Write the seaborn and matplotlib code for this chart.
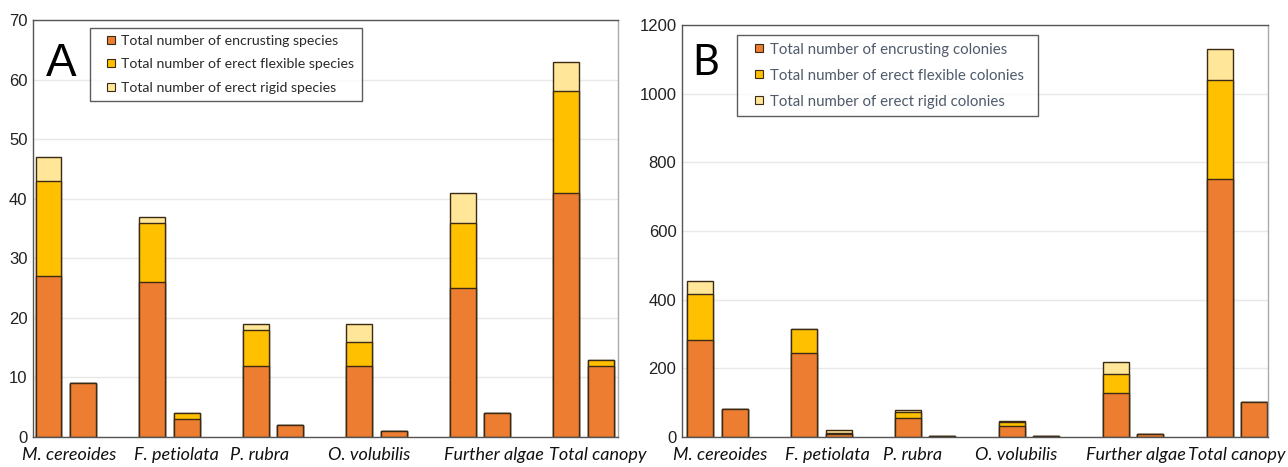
import numpy as np
import pandas as pd
import matplotlib
matplotlib.use("Agg")
import matplotlib.pyplot as plt
from matplotlib.lines import Line2D
import seaborn as sns

# categories (two bars per group)
groups = ["M. cereoides", "F. petiolata", "P. rubra", "O. volubilis", "Further algae", "Total canopy"]

# Panel A: number of species (first bar, second bar)
a_encrusting_1 = [27, 26, 12, 12, 25, 41]
a_flexible_1 = [16, 10, 6, 4, 11, 17]
a_rigid_1 = [4, 1, 1, 3, 5, 5]
a_encrusting_2 = [9, 3, 2, 1, 4, 12]
a_flexible_2 = [0, 1, 0, 0, 0, 1]
a_rigid_2 = [0, 0, 0, 0, 0, 0]

# Panel B: number of colonies
b_encrusting_1 = [282, 244, 55, 33, 129, 751]
b_flexible_1 = [136, 71, 19, 11, 56, 289]
b_rigid_1 = [37, 0, 5, 4, 34, 91]
b_encrusting_2 = [83, 8, 3, 2, 10, 101]
b_flexible_2 = [0, 4, 0, 0, 0, 0]
b_rigid_2 = [0, 7, 0, 0, 0, 0]

a_labels = ["Total number of encrusting species", "Total number of erect flexible species",
            "Total number of erect rigid species"]
b_labels = ["Total number of encrusting colonies", "Total number of erect flexible colonies",
            "Total number of erect rigid colonies"]

colors = ["#ED7D31", "#FFC000", "#FFE699"]
edge = "#3b2a14"


def build_frame(enc1, flex1, rig1, enc2, flex2, rig2):
    rows = []
    for g, name in enumerate(groups):
        rows.append(dict(group=name, pos=3 * g, enc=enc1[g], flex=flex1[g], rig=rig1[g]))
        rows.append(dict(group=name, pos=3 * g + 1, enc=enc2[g], flex=flex2[g], rig=rig2[g]))
    df = pd.DataFrame(rows)
    df["c1"] = df["enc"]
    df["c2"] = df["enc"] + df["flex"]
    df["c3"] = df["enc"] + df["flex"] + df["rig"]
    return df


def draw(ax, df, ymax, step, xlim, shifts, labels, leg_size, letter, letter_font, letter_size,
         letter_xy, text_color, leg_box):
    # stacked bars: draw cumulative totals from top segment down
    for col, c in zip(["c3", "c2", "c1"], colors[::-1]):
        sns.barplot(data=df, x="pos", y=col, native_scale=True, width=0.75,
                    color=c, edgecolor=edge, linewidth=1, errorbar=None,
                    saturation=1, ax=ax)
    ax.set_xlim(*xlim)
    ax.set_ylim(0, ymax)
    ax.set_yticks(np.arange(0, ymax + 1, step))
    # group labels, nudged a little as in the original layout
    ax.set_xticks([3 * g + 0.5 + s for g, s in enumerate(shifts)])
    ax.set_xticklabels(groups, fontsize=13, style="italic", family=["Lato", "DejaVu Sans"])
    ax.set_xlabel("")
    ax.set_ylabel("")
    ax.yaxis.grid(True, color="#e8e8e8", linewidth=1)
    ax.set_axisbelow(True)
    ax.tick_params(axis="y", labelsize=12, length=3, width=0.8, color="#888888", pad=1,
                   labelcolor="#222222")
    ax.tick_params(axis="x", length=0, pad=7, labelcolor="#111111")
    for lab in ax.get_yticklabels():
        lab.set_family(["Liberation Sans", "DejaVu Sans"])
    for side in ["left", "bottom", "top"]:
        ax.spines[side].set_color("#555555")
        ax.spines[side].set_linewidth(1)
    ax.spines["right"].set_color("#aaaaaa")
    ax.spines["right"].set_linewidth(1)

    handles = [Line2D([], [], linestyle="none", marker="s", markersize=5.8,
                      markerfacecolor=c, markeredgecolor=edge, markeredgewidth=0.8)
               for c in colors]
    leg = ax.legend(handles, labels, loc="upper left", bbox_to_anchor=leg_box, mode="expand",
                    frameon=True, fancybox=False, handlelength=1.96, handletextpad=-0.28,
                    labelspacing=0.8, borderpad=0.5, borderaxespad=0,
                    prop={"family": ["Lato", "DejaVu Sans"], "size": leg_size})
    leg.get_frame().set_edgecolor("#333333")
    leg.get_frame().set_linewidth(1)
    for t in leg.get_texts():
        t.set_color(text_color)
    ax.text(letter_xy[0], letter_xy[1], letter, transform=ax.transAxes, fontsize=letter_size,
            family=letter_font, va="baseline", ha="left", color="black")


sns.set_style("white")
plt.rcParams["font.family"] = ["Liberation Sans", "DejaVu Sans"]

fig = plt.figure(figsize=(12.88, 4.67), dpi=100)
ax_a = fig.add_axes([0.0256, 0.0642, 0.4542, 0.893])
ax_b = fig.add_axes([0.5295, 0.0642, 0.455, 0.882])

df_a = build_frame(a_encrusting_1, a_flexible_1, a_rigid_1, a_encrusting_2, a_flexible_2, a_rigid_2)
df_b = build_frame(b_encrusting_1, b_flexible_1, b_rigid_1, b_encrusting_2, b_flexible_2, b_rigid_2)

draw(ax_a, df_a, 70, 10, (-0.45, 16.5), [0.1, 0.2, -0.38, -0.2, 0.4, 0.42], a_labels, 10.2,
     "A", ["Liberation Sans", "DejaVu Sans"], 33, (0.022, 0.866), "#2a2a2a",
     (0.0974, 0.0, 0.465, 0.981))
draw(ax_b, df_b, 1200, 200, (-0.52, 16.4), [0.08, 0.17, -0.37, -0.37, 0.1, 0.0], b_labels, 10.8,
     "B", ["Lato", "DejaVu Sans"], 30, (0.017, 0.879), "#4f5a6b",
     (0.0939, 0.0, 0.514, 0.976))

fig.savefig("out.png", dpi=100)
